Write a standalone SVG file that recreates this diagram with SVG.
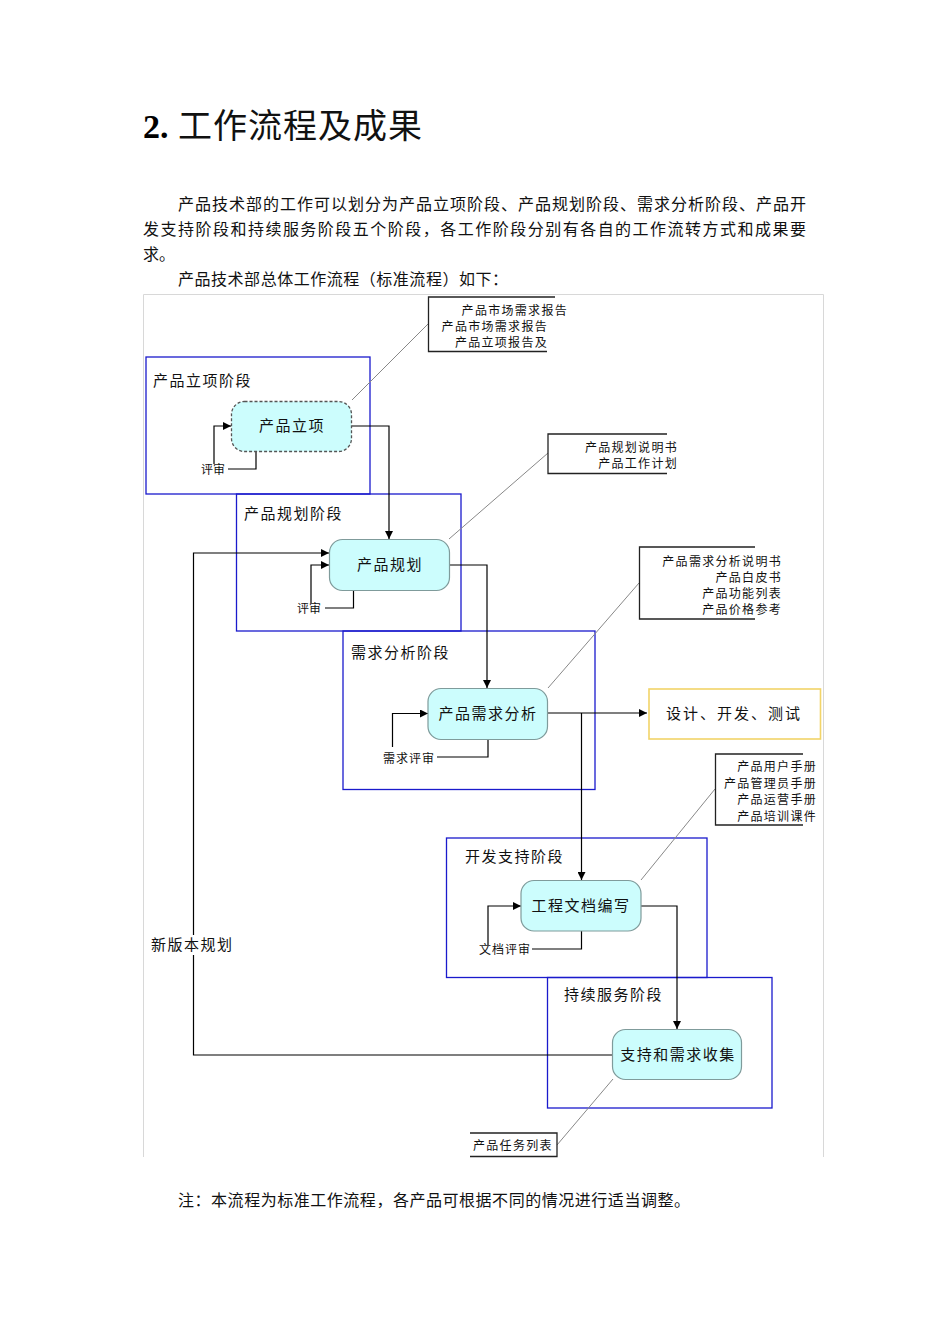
<svg xmlns="http://www.w3.org/2000/svg" width="950" height="1344" viewBox="0 0 950 1344">
<defs>
<marker id="ah" viewBox="0 0 10 10" refX="10" refY="5" markerWidth="10" markerHeight="8" markerUnits="userSpaceOnUse" orient="auto">
<path d="M0,0 L10,5 L0,10 z" fill="#000"/>
</marker>
</defs>
<style>
.cjk{font-family:"Noto Sans CJK SC","Noto Sans",sans-serif;fill:#111}
.para{font-size:16px}
.stage{fill:none;stroke:#1a1acc;stroke-width:1.3}
.stl{font-size:15px;letter-spacing:1.5px}
.node{fill:#ccfdfd;stroke:#7f9b9b;stroke-width:1.2}
.ntx{font-size:15px;letter-spacing:1.5px;text-anchor:middle}
.ann{fill:none;stroke:#222;stroke-width:1.3}
.atx{font-size:12px;letter-spacing:1.3px;text-anchor:end}
.rv{font-size:12px}
.lead{stroke:#888;stroke-width:1;fill:none}
.conn{fill:none;stroke:#000;stroke-width:1.2}
</style>
<rect width="950" height="1344" fill="#fff"/>
<g id="header">
<text x="143" y="138" font-family="Liberation Serif,serif" font-weight="bold" font-size="34" fill="#000">2.</text>
<text x="178" y="138" class="cjk" font-size="34" textLength="244">工作流程及成果</text>
<text x="178" y="210" class="cjk para" textLength="628" lengthAdjust="spacing">产品技术部的工作可以划分为产品立项阶段、产品规划阶段、需求分析阶段、产品开</text>
<text x="143" y="235" class="cjk para" textLength="663" lengthAdjust="spacing">发支持阶段和持续服务阶段五个阶段，各工作阶段分别有各自的工作流转方式和成果要</text>
<text x="143" y="260" class="cjk para">求。</text>
<text x="178" y="285" class="cjk para" textLength="330" lengthAdjust="spacing">产品技术部总体工作流程（标准流程）如下：</text>
<text x="178" y="1206" class="cjk para" textLength="512" lengthAdjust="spacing">注：本流程为标准工作流程，各产品可根据不同的情况进行适当调整。</text>
</g>
<g id="frame">
<path d="M143.5,1157 V294.5 H823.5 V1157" fill="none" stroke="#d8d8d8" stroke-width="1"/>
</g>
<g id="stages">
<g id="stage1"><rect class="stage" x="146" y="357" width="224" height="137"/><text class="cjk stl" x="153" y="386">产品立项阶段</text></g>
<g id="stage2"><rect class="stage" x="236.5" y="494" width="224.5" height="137"/><text class="cjk stl" x="244" y="519">产品规划阶段</text></g>
<g id="stage3"><rect class="stage" x="343" y="631" width="252" height="158.5"/><text class="cjk stl" x="351" y="658">需求分析阶段</text></g>
<g id="stage4"><rect class="stage" x="446.5" y="838" width="260.5" height="139.5"/><text class="cjk stl" x="465" y="862">开发支持阶段</text></g>
<g id="stage5"><rect class="stage" x="547.5" y="977.5" width="224.5" height="130.5"/><text class="cjk stl" x="564" y="1000">持续服务阶段</text></g>
</g>
<g id="connectors">
<line class="lead" x1="352" y1="400" x2="428" y2="324"/>
<line class="lead" x1="449" y1="539" x2="548" y2="453"/>
<line class="lead" x1="548" y1="688" x2="639" y2="583"/>
<line class="lead" x1="641" y1="880" x2="715" y2="789"/>
<line class="lead" x1="613" y1="1079" x2="557" y2="1145"/>
<path class="conn" d="M352,426 H389 V539" marker-end="url(#ah)"/>
<path class="conn" d="M449,565 H487 V688" marker-end="url(#ah)"/>
<path class="conn" d="M547,713 H647" marker-end="url(#ah)"/>
<path class="conn" d="M581.5,713 V880" marker-end="url(#ah)"/>
<path class="conn" d="M641,906 H677 V1029" marker-end="url(#ah)"/>
<path class="conn" d="M612,1055 H193.5 V553 H329" marker-end="url(#ah)"/>
<path class="conn" d="M214,464 V426 H231" marker-end="url(#ah)"/>
<path class="conn" d="M256,451 V469 H228"/>
<path class="conn" d="M311,603 V565 H329" marker-end="url(#ah)"/>
<path class="conn" d="M353.5,590 V608 H325"/>
<path class="conn" d="M392.5,747 V713.5 H428" marker-end="url(#ah)"/>
<path class="conn" d="M488,739 V757 H437"/>
<path class="conn" d="M488,945 V906 H521" marker-end="url(#ah)"/>
<path class="conn" d="M581.5,931 V949 H532"/>
<rect x="150" y="935" width="86" height="20" fill="#fff"/>
<text class="cjk" x="151" y="950" font-size="15" letter-spacing="1.5">新版本规划</text>
<text class="cjk rv" x="201" y="474">评审</text>
<text class="cjk rv" x="297" y="613">评审</text>
<text class="cjk rv" x="383" y="763" letter-spacing="1">需求评审</text>
<text class="cjk rv" x="479" y="954" letter-spacing="1">文档评审</text>
</g>
<g id="n1"><rect x="231.5" y="401.5" width="120" height="50" rx="13" fill="#ccfdfd" stroke="#555" stroke-width="1.3" stroke-dasharray="3,2"/><text class="cjk ntx" x="292" y="431">产品立项</text></g>
<g id="n2"><rect class="node" x="329.5" y="539.5" width="120" height="51" rx="13"/><text class="cjk ntx" x="390" y="570">产品规划</text></g>
<g id="n3"><rect class="node" x="428" y="688.5" width="119.5" height="51" rx="13"/><text class="cjk ntx" x="488" y="719">产品需求分析</text></g>
<g id="n4"><rect class="node" x="521" y="880.5" width="120" height="50.5" rx="13"/><text class="cjk ntx" x="581" y="911">工程文档编写</text></g>
<g id="n5"><rect class="node" x="612.5" y="1029.5" width="129" height="50" rx="13"/><text class="cjk ntx" x="678" y="1060">支持和需求收集</text></g>
<g id="n6"><rect x="649" y="689" width="171.5" height="50" fill="#fff" stroke="#f2d468" stroke-width="1.6"/><text class="cjk" x="734" y="719" font-size="15" letter-spacing="2" text-anchor="middle">设计、开发、测试</text></g>
<g id="a1"><path class="ann" d="M555,297 H428.5 V351.5 H547"/>
<text class="cjk atx" x="568" y="315">产品市场需求报告</text>
<text class="cjk atx" x="548" y="331">产品市场需求报告</text>
<text class="cjk atx" x="548" y="347">产品立项报告及</text></g>
<g id="a2"><path class="ann" d="M667,434 H548 V473.5 H667"/>
<text class="cjk atx" x="678" y="452">产品规划说明书</text>
<text class="cjk atx" x="678" y="468">产品工作计划</text></g>
<g id="a3"><path class="ann" d="M755,547 H639.5 V619 H755"/>
<text class="cjk atx" x="782" y="566">产品需求分析说明书</text>
<text class="cjk atx" x="782" y="582">产品白皮书</text>
<text class="cjk atx" x="782" y="598">产品功能列表</text>
<text class="cjk atx" x="782" y="614">产品价格参考</text></g>
<g id="a4"><path class="ann" d="M803,754 H715.5 V825 H803"/>
<text class="cjk atx" x="817" y="771">产品用户手册</text>
<text class="cjk atx" x="817" y="788">产品管理员手册</text>
<text class="cjk atx" x="817" y="804">产品运营手册</text>
<text class="cjk atx" x="817" y="821">产品培训课件</text></g>
<g id="a5"><path class="ann" d="M470,1133 H557 V1156.5 H470"/>
<text class="cjk" x="473" y="1150" font-size="12" letter-spacing="1.3">产品任务列表</text></g>
</svg>
